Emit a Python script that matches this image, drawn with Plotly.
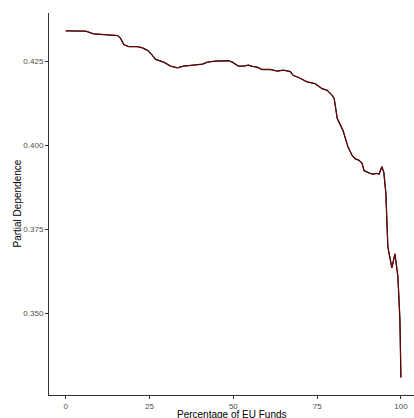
import plotly.graph_objects as go

# Partial dependence of the prediction on the share of EU funds
eu_funds_pct = [
    0, 3.0, 6.0, 8.3, 10.4, 13.4, 15.5, 16.4, 17.3, 18.8, 21.4, 22.9, 24.4,
    25.6, 26.8, 29.2, 31.3, 33.3, 35.1, 38.1, 40.8, 42.3, 44.6, 48.5, 49.7,
    51.5, 53.0, 54.5, 55.7, 57.1, 58.6, 61.0, 63.1, 64.9, 67.0, 67.9, 69.3,
    72.0, 74.4, 76.5, 78.0, 79.5, 80.1, 81.0, 82.7, 84.2, 85.4, 86.3, 87.5,
    88.4, 89.0, 90.8, 91.7, 92.9, 93.5, 94.3, 94.9, 95.5, 96.1, 97.3, 98.2,
    99.1, 99.7, 100,
]
partial_dependence = [
    0.4341, 0.4340, 0.4340, 0.4332, 0.4330, 0.4329, 0.4327, 0.4318, 0.4300,
    0.4294, 0.4294, 0.4290, 0.4283, 0.4271, 0.4256, 0.4248, 0.4236, 0.4231,
    0.4236, 0.4239, 0.4242, 0.4248, 0.4251, 0.4252, 0.4248, 0.4236, 0.4236,
    0.4239, 0.4235, 0.4233, 0.4226, 0.4226, 0.4221, 0.4224, 0.4220, 0.4208,
    0.4203, 0.4189, 0.4184, 0.4169, 0.4164, 0.4149, 0.4139, 0.4080, 0.4045,
    0.3996, 0.3971, 0.3961, 0.3956, 0.3947, 0.3925, 0.3917, 0.3915, 0.3917,
    0.3915, 0.3937, 0.3920, 0.3859, 0.3698, 0.3636, 0.3678, 0.3610, 0.3482,
    0.3310,
]
x_ticks = [0, 25, 50, 75, 100]
y_ticks = [0.350, 0.375, 0.400, 0.425]

FONT = "Liberation Sans, Arial, sans-serif"

fig = go.Figure()
fig.add_trace(go.Scatter(
    x=eu_funds_pct, y=partial_dependence, mode="lines",
    line=dict(color="black", width=1.3), hoverinfo="skip",
))
fig.add_trace(go.Scatter(
    x=eu_funds_pct, y=partial_dependence, mode="lines",
    line=dict(color="#8b0000", width=0.9),
))

axis_common = dict(
    showgrid=False, zeroline=False, showline=True,
    linecolor="#333333", linewidth=1,
    ticks="outside", ticklen=3, tickwidth=1, tickcolor="#333333",
    tickfont=dict(family=FONT, size=8, color="#4d4d4d"),
)

fig.update_layout(
    width=414, height=418,
    margin=dict(l=48.5, r=0, t=12.5, b=22.5),
    paper_bgcolor="white", plot_bgcolor="white",
    showlegend=False,
    xaxis=dict(range=[-5, 103.9], tickvals=x_ticks, **axis_common),
    yaxis=dict(range=[0.3258, 0.4394], tickvals=y_ticks,
               tickformat=".3f", **axis_common),
    annotations=[
        dict(text="Percentage of EU Funds", xref="paper", yref="paper",
             x=0.5, y=0, yshift=-19.5, xanchor="center", yanchor="middle",
             showarrow=False, font=dict(family=FONT, size=10, color="black")),
        dict(text="Partial Dependence", xref="paper", yref="paper",
             x=0, y=0.5, xshift=-32.5, xanchor="center", yanchor="middle",
             textangle=-90, showarrow=False,
             font=dict(family=FONT, size=10, color="black")),
    ],
)

fig.write_html("out.html")
